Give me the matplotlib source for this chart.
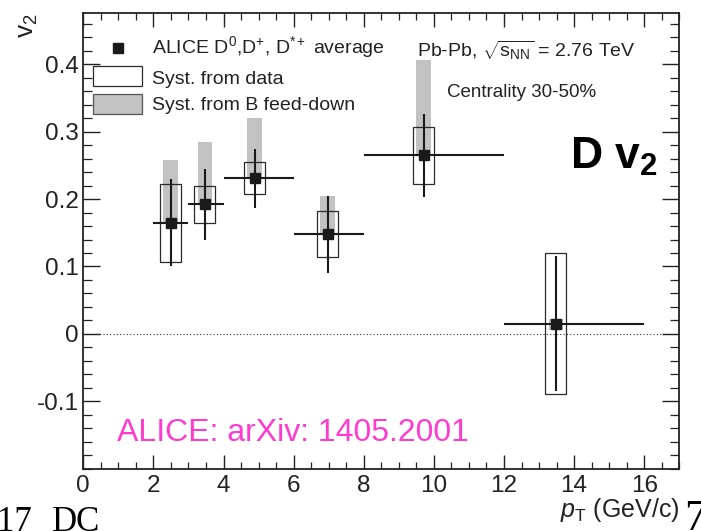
import matplotlib
matplotlib.use("Agg")
import matplotlib.pyplot as plt
from matplotlib.ticker import MultipleLocator
from matplotlib.patches import Rectangle
from matplotlib.lines import Line2D
import numpy as np

plt.rcParams['font.family'] = ['Liberation Sans', 'DejaVu Sans']
plt.rcParams['mathtext.fontset'] = 'custom'
plt.rcParams['mathtext.rm'] = 'Liberation Sans'
plt.rcParams['mathtext.it'] = 'Liberation Sans:italic'
plt.rcParams['mathtext.bf'] = 'Liberation Sans:bold'
plt.rcParams['mathtext.sf'] = 'Liberation Sans'
plt.rcParams['axes.unicode_minus'] = False

# ---- data ----
pt = [2.49, 3.47, 4.89, 6.97, 9.71, 13.48]
bin_lo = [2, 3, 4, 6, 8, 12]
bin_hi = [3, 4, 6, 8, 12, 16]
v2 = [0.165, 0.192, 0.231, 0.148, 0.265, 0.015]
stat_err = [0.065, 0.052, 0.044, 0.057, 0.062, 0.100]
syst_data = [0.058, 0.028, 0.024, 0.034, 0.042, 0.105]
fd_lo = [0.0, 0.0, 0.0, 0.0, 0.0, 0.009]
fd_hi = [0.093, 0.093, 0.089, 0.057, 0.142, 0.007]
xticks = [0, 2, 4, 6, 8, 10, 12, 14, 16]
yticks = [-0.1, 0.0, 0.1, 0.2, 0.3, 0.4]
ytick_labels = ['-0.1', '0', '0.1', '0.2', '0.3', '0.4']

DARK = '#1a1a1a'
GREY = '#c2c2c2'
MAGENTA = '#ff3acf'

W, H = 701, 531
fig = plt.figure(figsize=(W / 100, H / 100), dpi=100)
ax_l, ax_r, ax_t, ax_b = 83.3, 679.3, 13.2, 468.5
ax = fig.add_axes([ax_l / W, 1 - ax_b / H, (ax_r - ax_l) / W, (ax_b - ax_t) / H])

pt_a = np.array(pt)
v2_a = np.array(v2)
# B feed-down systematics (grey)
ax.bar(pt_a, np.array(fd_lo) + np.array(fd_hi), bottom=v2_a - np.array(fd_lo),
       width=0.42, color=GREY, edgecolor='none', zorder=1)
# systematics from data (open boxes)
ax.bar(pt_a, 2 * np.array(syst_data), bottom=v2_a - np.array(syst_data),
       width=0.6, fill=False, edgecolor='#2a2a2a', linewidth=0.9, zorder=2)
# zero line
ax.axhline(0, color='#333333', lw=0.8, ls=(0, (1, 2)), zorder=0)
# statistical errors + bin widths
xerr = [pt_a - np.array(bin_lo), np.array(bin_hi) - pt_a]
ax.errorbar(pt_a, v2_a, yerr=stat_err, xerr=xerr, fmt='s', color=DARK,
            ms=6.5, elinewidth=1.5, capsize=0, zorder=3)

ax.set_xlim(0, 17)
ax.set_ylim(-0.2, 0.476)
ax.set_xticks(xticks)
ax.set_xticklabels([str(t) for t in xticks])
ax.set_yticks(yticks)
ax.set_yticklabels(ytick_labels)
ax.xaxis.set_minor_locator(MultipleLocator(0.5))
ax.yaxis.set_minor_locator(MultipleLocator(0.02))
ax.tick_params(axis='x', which='major', direction='in', length=10, width=1.0,
               top=True, labelsize=17.5, pad=5, colors='#222222', labelcolor='#222222')
ax.tick_params(axis='x', which='minor', direction='in', length=5, width=0.9,
               top=True, colors='#222222')
ax.tick_params(axis='y', which='major', direction='in', length=12.5, width=1.0,
               right=True, labelsize=17.5, pad=3.5, colors='#222222', labelcolor='#222222')
ax.tick_params(axis='y', which='minor', direction='in', length=6.5, width=0.9,
               right=True, colors='#222222')
for s in ax.spines.values():
    s.set_linewidth(1.3)
    s.set_color('#222222')

def fx(px):
    return (px - ax_l) / (ax_r - ax_l)

def fy(py):
    return (ax_b - py) / (ax_b - ax_t)

tr = ax.transAxes
# axis titles
ax.text(fx(34), fy(13), r'v$_{2}$', rotation=90, rotation_mode='anchor',
        ha='right', va='baseline', fontsize=19, transform=tr, color='#222222')
ax.text(fx(680), fy(517), r'$p_{\mathrm{T}}$ (GeV/c)', ha='right', va='baseline',
        fontsize=18, transform=tr, color='#222222')

# legend (drawn manually)
ax.add_line(Line2D([fx(118)], [fy(48)], marker='s', ms=6.5, color=DARK,
                   transform=tr, clip_on=False))
ax.add_patch(Rectangle((fx(93.3), fy(85.7)), fx(141.7) - fx(93.3), fy(65.7) - fy(85.7),
                       transform=tr, facecolor='white', edgecolor='#2a2a2a', lw=0.9))
ax.add_patch(Rectangle((fx(93.3), fy(114)), fx(141.7) - fx(93.3), fy(94.3) - fy(114),
                       transform=tr, facecolor=GREY, edgecolor='#555555', lw=0.9))
ax.text(fx(151.7), fy(53.5), r'ALICE D$^{0}$,D$^{+}$, D$^{\mathrm{*+}}$ average',
        fontsize=14, ha='left', va='baseline', transform=tr, color='#222222')
ax.text(fx(151.7), fy(83.5), 'Syst. from data', fontsize=14, ha='left', va='baseline',
        transform=tr, color='#222222')
ax.text(fx(151.7), fy(110), 'Syst. from B feed-down', fontsize=14, ha='left', va='baseline',
        transform=tr, color='#222222')

# system labels
ax.text(fx(416.7), fy(57.3), r'Pb-Pb, $\sqrt{\mathrm{s}_{\mathrm{NN}}}$ = 2.76 TeV', fontsize=14,
        ha='left', va='baseline', transform=tr, color='#222222')
ax.text(fx(446.7), fy(96.7), 'Centrality 30-50%', fontsize=13.5, ha='left', va='baseline',
        transform=tr, color='#222222')
ax.text(fx(570), fy(168.3), r'$\mathbf{D\ v_{2}}$', fontsize=32, ha='left', va='baseline',
        transform=tr, color='black')
ax.text(fx(117), fy(441), 'ALICE: arXiv: 1405.2001', fontsize=23, ha='left', va='baseline',
        transform=tr, color=MAGENTA)

# slide residue text outside the plot (cut by the page edge in the reference)
fig.text(32 / W, 1 - 531 / H, '17', fontsize=25, ha='right', va='baseline',
         family='Liberation Serif', color='black')
fig.text(52 / W, 1 - 531 / H, 'DC', fontsize=25, ha='left', va='baseline',
         family='Liberation Serif', color='black')
fig.text(684 / W, 1 - 530 / H, '7', fontsize=32, ha='left', va='baseline',
         family='Liberation Serif', color='black')

fig.savefig('out.png', dpi=100)
